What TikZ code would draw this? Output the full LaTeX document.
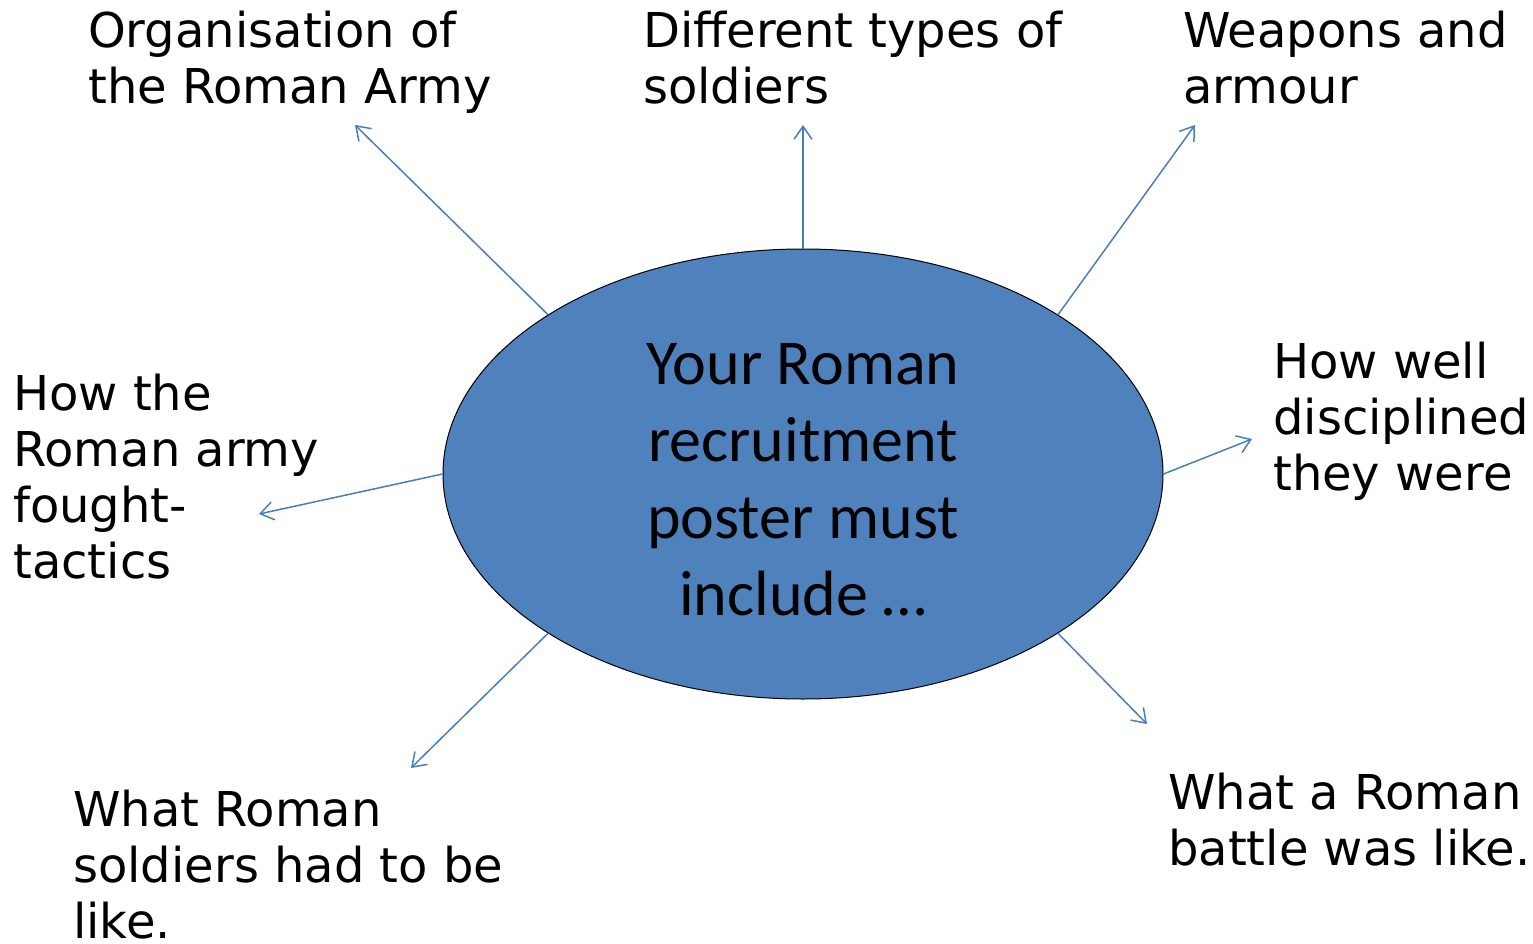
\documentclass[tikz,border=0pt]{standalone}
\usepackage{fontspec}
\setmainfont{DejaVu Sans}
\newfontfamily\calibri{Carlito}
\usetikzlibrary{arrows.meta,shapes.geometric}
\definecolor{officeblue}{HTML}{4F81BD}
\definecolor{linkblue}{HTML}{4A7EBB}
\tikzset{
  topic/.style={anchor=base west, align=left, inner sep=0pt,
    font=\fontsize{48}{56}\selectfont},
  link/.style={draw=linkblue, line width=1.5pt,
    -{Straight Barb[length=13pt,width=18pt,line width=1.5pt]}}
}
\begin{document}
\begin{tikzpicture}[x=1pt,y=-1pt]
  \useasboundingbox (0,0) rectangle (1533,944);
  % central ellipse
  \node (centre) [ellipse, draw=black, line width=1pt, fill=officeblue,
    minimum width=720pt, minimum height=450pt, inner sep=0pt]
    at (803,474) {};
  \node (centre-text) [align=center, inner sep=0pt,
    font=\calibri\fontsize{64}{77}\selectfont]
    at ([yshift=-6pt]centre.center) {Your Roman\\recruitment\\poster must\\include \dots};
  % arrow ends
  \coordinate (organisation-end) at (355,125);
  \coordinate (types-end) at (803,125);
  \coordinate (weapons-end) at (1195,125);
  \coordinate (discipline-end) at (1252,439);
  \coordinate (battle-end) at (1147,724);
  \coordinate (soldiers-end) at (411,768);
  \coordinate (tactics-end) at (259,514);
  % topics (anchored on the last line)
  \node (organisation) [topic] at (88,104) {Organisation of\\the Roman Army};
  \node (types) [topic] at (643,104) {Different types of\\soldiers};
  \node (weapons) [topic] at (1183,104) {Weapons and\\armour};
  \node (discipline) [topic] at (1273,490) {How well\\disciplined\\they were};
  \node (tactics) [topic] at (13,578) {How the\\Roman army\\fought-\\tactics};
  \node (soldiers) [topic] at (73,938) {What Roman\\soldiers had to be\\like.};
  \node (battle) [topic] at (1168,865) {What a Roman\\battle was like.};
  % links
  \draw [link] (centre.148) -- (organisation-end);
  \draw [link] (centre.90) -- (types-end);
  \draw [link] (centre.32) -- (weapons-end);
  \draw [link] (centre.0) -- (discipline-end);
  \draw [link] (centre.-32) -- (battle-end);
  \draw [link] (centre.-148) -- (soldiers-end);
  \draw [link] (centre.180) -- (tactics-end);
\end{tikzpicture}
\end{document}
